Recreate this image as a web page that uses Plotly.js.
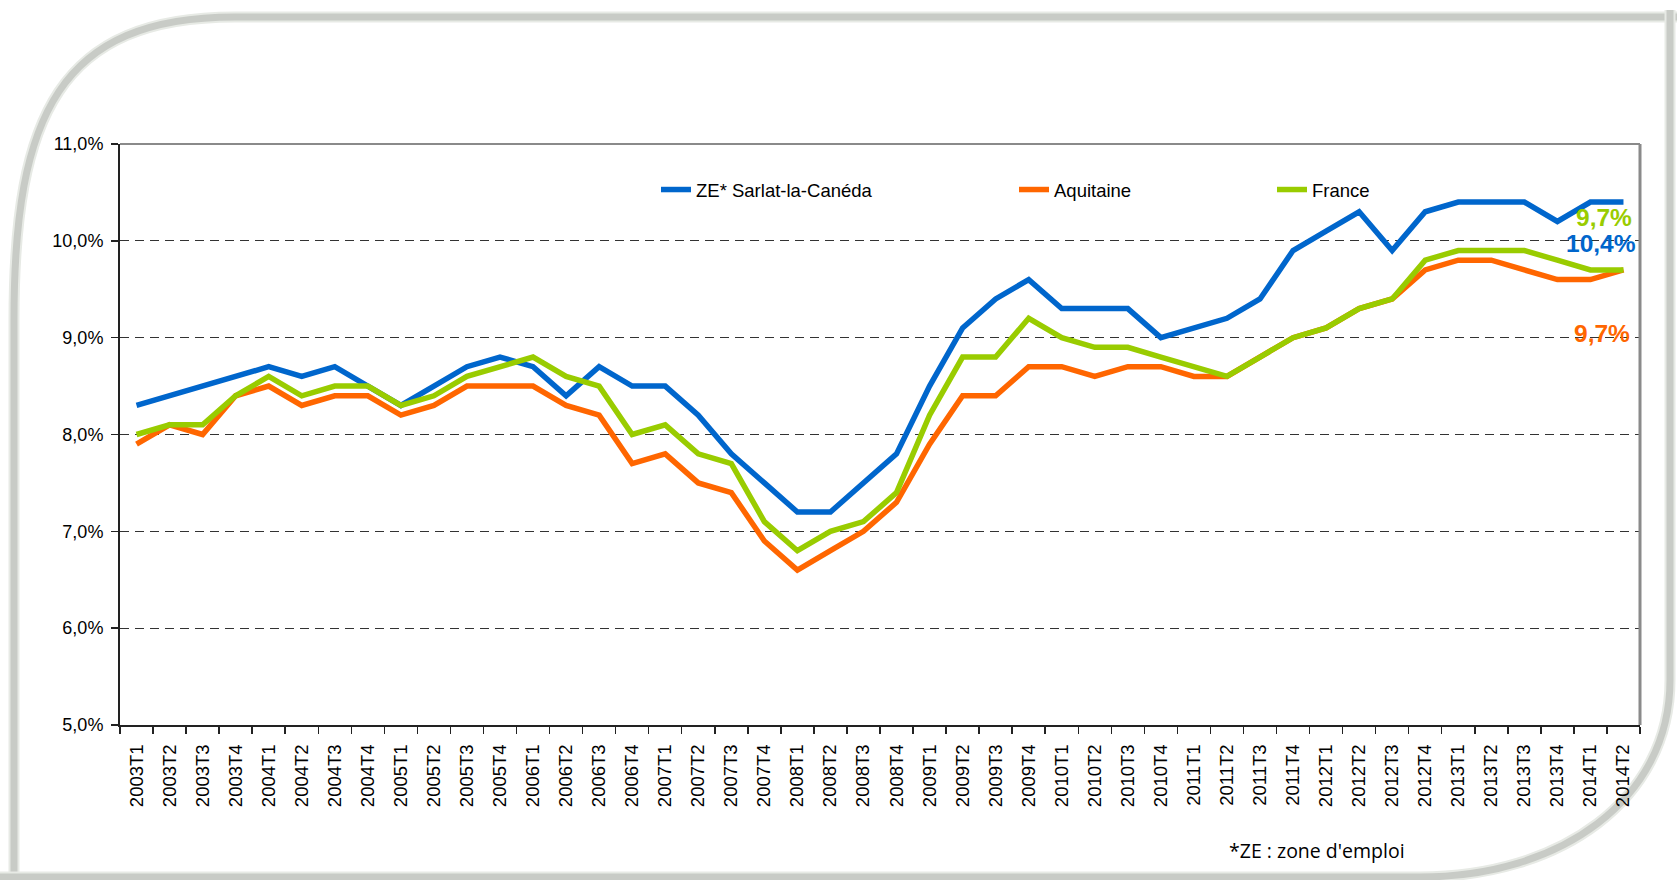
<!DOCTYPE html>
<html>
<head>
<meta charset="utf-8">
<script src="https://cdn.plot.ly/plotly-3.0.1.min.js"></script>
<style>
html,body{margin:0;padding:0;background:#fff;}
#chart{width:1677px;height:880px;}
</style>
</head>
<body>
<div id="chart"></div>
<script>
const quarters = ["2003T1","2003T2","2003T3","2003T4","2004T1","2004T2","2004T3","2004T4",
"2005T1","2005T2","2005T3","2005T4","2006T1","2006T2","2006T3","2006T4",
"2007T1","2007T2","2007T3","2007T4","2008T1","2008T2","2008T3","2008T4",
"2009T1","2009T2","2009T3","2009T4","2010T1","2010T2","2010T3","2010T4",
"2011T1","2011T2","2011T3","2011T4","2012T1","2012T2","2012T3","2012T4",
"2013T1","2013T2","2013T3","2013T4","2014T1","2014T2"];

const sarlat = [8.3,8.4,8.5,8.6,8.7,8.6,8.7,8.5,
8.3,8.5,8.7,8.8,8.7,8.4,8.7,8.5,
8.5,8.2,7.8,7.5,7.2,7.2,7.5,7.8,
8.5,9.1,9.4,9.6,9.3,9.3,9.3,9.0,
9.1,9.2,9.4,9.9,10.1,10.3,9.9,10.3,
10.4,10.4,10.4,10.2,10.4,10.4];

const aquitaine = [7.9,8.1,8.0,8.4,8.5,8.3,8.4,8.4,
8.2,8.3,8.5,8.5,8.5,8.3,8.2,7.7,
7.8,7.5,7.4,6.9,6.6,6.8,7.0,7.3,
7.9,8.4,8.4,8.7,8.7,8.6,8.7,8.7,
8.6,8.6,8.8,9.0,9.1,9.3,9.4,9.7,
9.8,9.8,9.7,9.6,9.6,9.7];

const france = [8.0,8.1,8.1,8.4,8.6,8.4,8.5,8.5,
8.3,8.4,8.6,8.7,8.8,8.6,8.5,8.0,
8.1,7.8,7.7,7.1,6.8,7.0,7.1,7.4,
8.2,8.8,8.8,9.2,9.0,8.9,8.9,8.8,
8.7,8.6,8.8,9.0,9.1,9.3,9.4,9.8,
9.9,9.9,9.9,9.8,9.7,9.7];

const seriesNames = ["ZE* Sarlat-la-Canéda","Aquitaine","France"];
const colors = ["#0066CC","#FF6600","#99CC00"];
const yTicks = [5,6,7,8,9,10,11];

const fmt = v => v.toFixed(1).replace('.', ',') + '%';
const yTickText = yTicks.map(fmt);

// plot area in pixels
const L = 120, R = 1640, T = 144, B = 725, W = 1677, H = 880;
const px = x => (x - L) / (R - L);
const py = y => (B - y) / (B - T);
function path(cmds){
  return cmds.map(c => {
    if (typeof c === 'string') return c;
    return px(c[0]).toFixed(5) + ',' + py(c[1]).toFixed(5);
  }).join(' ');
}
const frameLeft = path(['M',[14,885],'L',[14,320],'C',[14,115],[60,17],[235,17],'L',[1690,17]]);
const frameRight = path(['M',[1670,10],'L',[1670,680],'C',[1670,800],[1560,877],[1420,877],'L',[-10,877]]);

const last = quarters[quarters.length-1];
const lastVals = [sarlat[sarlat.length-1], aquitaine[aquitaine.length-1], france[france.length-1]];

const traces = [
  {x: quarters, y: sarlat, name: seriesNames[0], legend: 'legend'},
  {x: quarters, y: aquitaine, name: seriesNames[1], legend: 'legend2'},
  {x: quarters, y: france, name: seriesNames[2], legend: 'legend3'}
].map((t,i) => Object.assign(t, {
  type: 'scatter', mode: 'lines',
  line: {color: colors[i], width: 5.5},
  hoverinfo: 'skip'
}));

const legendFont = {family: 'Liberation Sans, Arial, sans-serif', size: 18.5, color: '#000'};
const legendBase = {orientation: 'h', yanchor: 'middle', xanchor: 'left', bgcolor: 'rgba(0,0,0,0)',
  font: legendFont, borderwidth: 0};

const layout = {
  width: W, height: H,
  margin: {l: L, r: W - R, t: T, b: H - B, pad: 0},
  paper_bgcolor: '#fff', plot_bgcolor: '#fff',
  separators: ', ',
  font: {family: 'Liberation Sans, Arial, sans-serif', size: 17, color: '#000'},
  showlegend: true,
  legend: Object.assign({x: px(656), y: py(190)}, legendBase),
  legend2: Object.assign({x: px(1014), y: py(190)}, legendBase),
  legend3: Object.assign({x: px(1272), y: py(190)}, legendBase),
  xaxis: {
    type: 'category', categoryarray: quarters, categoryorder: 'array',
    range: [-0.5, quarters.length - 0.5],
    tickangle: -90, tickson: 'boundaries', ticks: 'outside', ticklen: 7, tickwidth: 1.5, tickcolor: '#222',
    showline: true, linecolor: '#222', linewidth: 2, showgrid: false, zeroline: false,
    tickfont: {size: 18.5, color: '#000'}, ticklabelstandoff: 10, automargin: false, fixedrange: true
  },
  yaxis: {
    range: [5, 11], tickmode: 'array', tickvals: yTicks, ticktext: yTickText,
    ticks: 'outside', ticklen: 7, tickwidth: 1.5, tickcolor: '#222',
    showline: true, linecolor: '#222', linewidth: 2,
    showgrid: true, gridcolor: '#333', gridwidth: 1, griddash: '9px,6px', zeroline: false,
    tickfont: {size: 18, color: '#000'}, ticklabelstandoff: 4, automargin: false, fixedrange: true
  },
  shapes: [
    {type: 'line', xref: 'paper', yref: 'paper', x0: 0, x1: 1, y0: 1, y1: 1, line: {color: '#8a8a8a', width: 2}, layer: 'above'},
    {type: 'line', xref: 'paper', yref: 'paper', x0: 1, x1: 1, y0: 0, y1: 1, line: {color: '#8a8a8a', width: 3}, layer: 'above'},
    {type: 'path', xref: 'paper', yref: 'paper', path: frameLeft, line: {color: '#e7eae5', width: 11}, layer: 'below'},
    {type: 'path', xref: 'paper', yref: 'paper', path: frameLeft, line: {color: '#c8cbc6', width: 7}, layer: 'below'},
    {type: 'path', xref: 'paper', yref: 'paper', path: frameRight, line: {color: '#e7eae5', width: 11}, layer: 'below'},
    {type: 'path', xref: 'paper', yref: 'paper', path: frameRight, line: {color: '#c8cbc6', width: 7}, layer: 'below'}
  ],
  annotations: [
    {x: last, y: lastVals[2], xref: 'x', yref: 'y', text: fmt(lastVals[2]), showarrow: false,
     xanchor: 'right', yanchor: 'middle', xshift: 11, yshift: 52,
     font: {family: 'Liberation Sans, Arial, sans-serif', size: 24.5, color: colors[2], weight: 'bold'}},
    {x: last, y: lastVals[0], xref: 'x', yref: 'y', text: fmt(lastVals[0]), showarrow: false,
     xanchor: 'right', yanchor: 'middle', xshift: 15, yshift: -41,
     font: {family: 'Liberation Sans, Arial, sans-serif', size: 24.5, color: colors[0], weight: 'bold'}},
    {x: last, y: lastVals[1], xref: 'x', yref: 'y', text: fmt(lastVals[1]), showarrow: false,
     xanchor: 'right', yanchor: 'middle', xshift: 9, yshift: -64,
     font: {family: 'Liberation Sans, Arial, sans-serif', size: 24.5, color: colors[1], weight: 'bold'}},
    {x: px(1227), y: py(850), xref: 'paper', yref: 'paper', text: "*ZE : zone d'emploi", showarrow: false,
     xanchor: 'left', yanchor: 'middle',
     font: {family: 'Open Sans, Liberation Sans, sans-serif', size: 19.5, color: '#000'}}
  ]
};

Plotly.newPlot('chart', traces, layout, {staticPlot: true, displayModeBar: false});
</script>
</body>
</html>
